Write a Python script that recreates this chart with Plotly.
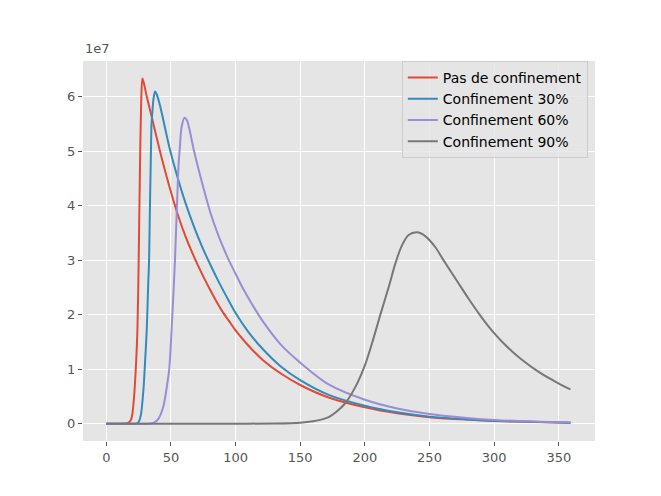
import plotly.graph_objects as go

# valeurs en unités de 1e7
jours_pas = [0, 10, 15, 17, 19, 20, 21.5, 22.8, 24.1, 25, 26, 27, 27.9, 29, 31.3, 35, 41.5, 45, 48.7, 55.1,
             61.5, 67.9, 74.4, 80, 85, 90, 95, 100, 110, 121, 135, 150, 172, 200, 225, 250, 275, 300, 330, 359]
pas_conf = [0, 0, 0.003, 0.015, 0.07, 0.15, 0.49, 1.0, 1.72, 2.9, 4.6, 5.9, 6.33, 6.25, 6.0, 5.64, 5.0, 4.68,
            4.36, 3.85, 3.42, 3.06, 2.73, 2.47, 2.25, 2.05, 1.88, 1.71, 1.43, 1.17, 0.92, 0.71, 0.48, 0.30,
            0.19, 0.12, 0.08, 0.05, 0.03, 0.02]

jours_30 = [0, 20, 23.6, 25, 26.7, 28.7, 29.7, 31.3, 32.5, 33.1, 34.9, 35.6, 36.5, 37.7, 39, 41.5, 44.1, 48.7,
            55.1, 61.5, 67.9, 74.4, 80.8, 87, 93, 100, 110, 121, 135, 150, 172, 200, 225, 250, 275, 300, 330,
            359]
conf_30 = [0, 0, 0.005, 0.03, 0.15, 0.61, 1.0, 1.72, 2.6, 2.98, 5.45, 5.70, 5.95, 6.09, 6.04, 5.84, 5.57, 5.08,
           4.52, 4.03, 3.61, 3.23, 2.90, 2.60, 2.33, 2.03, 1.68, 1.37, 1.05, 0.80, 0.53, 0.33, 0.21, 0.13, 0.085,
           0.055, 0.035, 0.02]

jours_60 = [0, 30, 33.8, 37, 40.3, 44.1, 47.2, 48.7, 50.5, 53.1, 55.6, 56.2, 56.9, 58.2, 60.5, 62.3, 64.1,
            67.9, 74.4, 80.8, 87.2, 93.6, 100, 106.4, 113, 121, 135, 150, 172, 200, 225, 250, 275, 300, 330, 359]
conf_60 = [0, 0, 0.003, 0.02, 0.09, 0.31, 0.74, 1.0, 1.72, 2.98, 4.6, 4.85, 5.06, 5.43, 5.61, 5.57, 5.42,
           5.0, 4.39, 3.85, 3.42, 3.06, 2.75, 2.45, 2.18, 1.88, 1.45, 1.12, 0.72, 0.44, 0.28, 0.18, 0.115, 0.07,
           0.04, 0.025]

jours_90 = [0, 100, 130, 150, 160, 167, 172, 178, 185, 192.8, 200, 205.6, 212, 218.5, 223.6, 228.7, 233.8,
            240.3, 246.7, 254.4, 260.8, 272.3, 280, 290, 300, 310, 320, 335, 349, 359]
conf_90 = [0, 0, 0.005, 0.02, 0.045, 0.08, 0.12, 0.22, 0.38, 0.68, 1.07, 1.48, 2.0, 2.51, 2.94, 3.27, 3.46,
           3.51, 3.44, 3.24, 3.0, 2.58, 2.30, 1.96, 1.66, 1.41, 1.20, 0.94, 0.75, 0.63]

series = [
    ("Pas de confinement", jours_pas, pas_conf, "#E24A33"),
    ("Confinement 30%", jours_30, conf_30, "#348ABD"),
    ("Confinement 60%", jours_60, conf_60, "#988ED5"),
    ("Confinement 90%", jours_90, conf_90, "#777777"),
]

fig = go.Figure()
for nom, x, y, couleur in series:
    fig.add_trace(go.Scatter(x=x, y=y, name=nom, mode="lines",
                             line=dict(color=couleur, width=2, shape="spline", smoothing=0.8)))

fig.update_layout(
    width=661, height=496,
    margin=dict(l=75, r=74, t=53, b=63),
    paper_bgcolor="white", plot_bgcolor="#E5E5E5",
    font=dict(family="DejaVu Sans", size=13, color="#555555"),
    showlegend=True,
    legend=dict(x=0.986, y=1.0, xanchor="right", yanchor="top",
                bgcolor="rgba(229,229,229,0.8)", bordercolor="#cccccc", borderwidth=1,
                font=dict(size=14, color="black"), tracegroupgap=0),
)
fig.update_xaxes(range=[-18, 378], tickvals=[0, 50, 100, 150, 200, 250, 300, 350],
                 showgrid=True, gridcolor="white", gridwidth=1, zeroline=False,
                 ticks="outside", ticklen=4, tickcolor="#555555", showline=False)
fig.update_yaxes(range=[-0.3167, 6.65], tickvals=[0, 1, 2, 3, 4, 5, 6],
                 showgrid=True, gridcolor="white", gridwidth=1, zeroline=False,
                 ticks="outside", ticklen=4, tickcolor="#555555", showline=False)
fig.add_annotation(text="1e7", xref="paper", yref="paper", x=0, y=1, xanchor="left", yanchor="bottom",
                   yshift=3, showarrow=False, font=dict(size=13, color="#555555"))

fig.write_html("out.html")
